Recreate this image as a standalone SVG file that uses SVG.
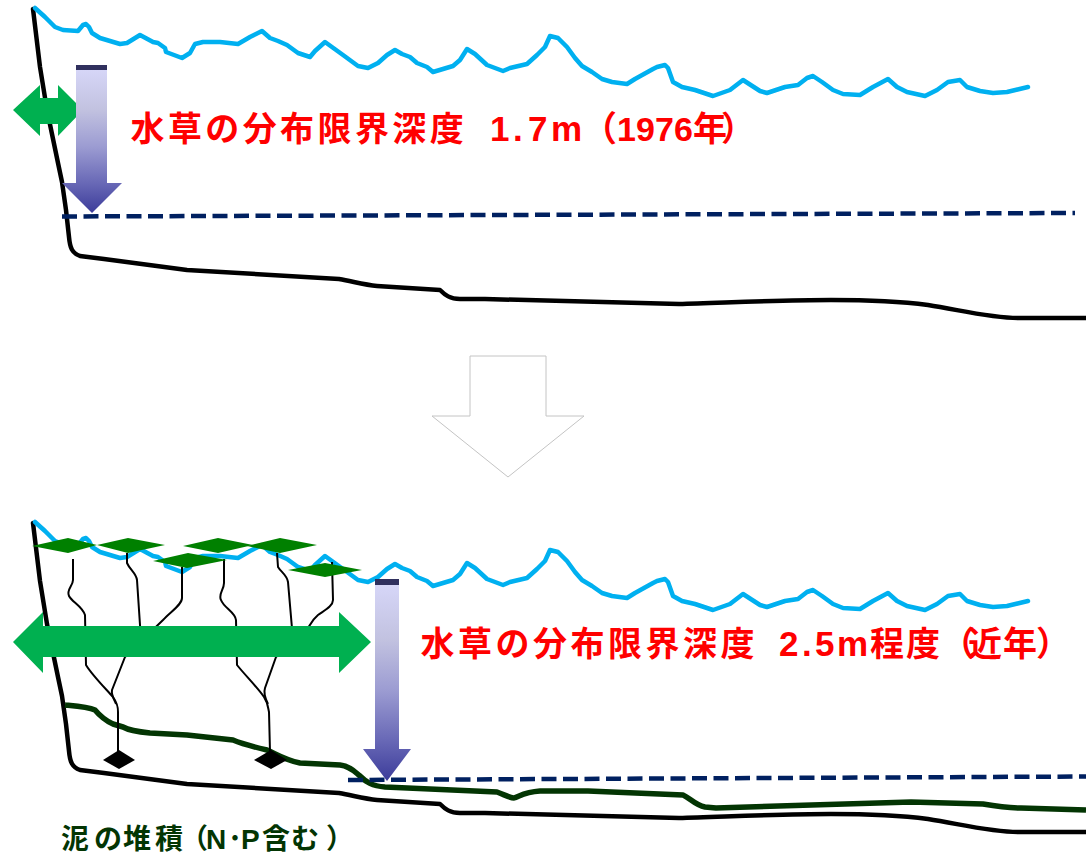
<svg xmlns="http://www.w3.org/2000/svg" xmlns:xlink="http://www.w3.org/1999/xlink" width="1086" height="861" viewBox="0 0 1086 861">
  <style>
    .water { fill: none; stroke: #00B0F0; stroke-width: 4.5; stroke-linejoin: round; stroke-linecap: round; }
    .bed { fill: none; stroke: #000; stroke-width: 4.5; stroke-linejoin: round; stroke-linecap: round; }
    .limit { fill: none; stroke: #002060; stroke-width: 4.5; stroke-dasharray: 15 6.5; }
    .mud { fill: none; stroke: #033503; stroke-width: 5.5; stroke-linejoin: round; }
    .stem { fill: none; stroke: #000; stroke-width: 2; stroke-linejoin: round; }
    .leaf { fill: #008000; }
    .root { fill: #000; }
    .spread { fill: #00B050; }
    .depth { fill: url(#depthGrad); }
    .cap { fill: #30305e; }
    .lbl { font-family: "Liberation Sans", "Noto Sans CJK JP", sans-serif; font-weight: bold; fill: #FF0000; font-size: 34px; }
    .num { font-size: 35px; }
    .note { font-family: "Liberation Sans", "Noto Sans CJK JP", sans-serif; font-weight: bold; fill: #033503; font-size: 28px; }
  </style>
  <defs>
    <linearGradient id="depthGrad" x1="0" y1="0" x2="0" y2="1">
      <stop offset="0" stop-color="#d8d8fa"/>
      <stop offset="0.3" stop-color="#c2c2e0"/>
      <stop offset="0.55" stop-color="#9c9cd2"/>
      <stop offset="0.8" stop-color="#6868b6"/>
      <stop offset="1" stop-color="#3c3c9a"/>
    </linearGradient>
    <!-- lake surface -->
    <path id="surface" class="water" d="M35,8 L45,17 L55,27 L63,30 L78,31 L83,25 L86,24 L89,27 L92,33 L100,38 L120,44 L127,43 L140,35 L153,42 L158,43 L165,48 L166,52 L182,58 L190,53 L195,44 L203,42 L220,42 L238,44 L250,37 L262,31 L270,38 L278,41 L287,45 L298,53 L310,57 L315,51 L325,42 L343,55 L358,66 L368,68 L378,63 L387,55 L395,50 L402,54 L410,57 L417,63 L427,67 L433,72 L453,66 L460,60 L467,49 L475,54 L487,65 L503,71 L510,68 L527,64 L537,55 L545,47 L550,36 L558,38 L567,47 L575,58 L582,66 L592,72 L602,79 L612,82 L627,84 L635,79 L653,69 L657,67 L665,65 L668,68 L673,82 L682,87 L695,90 L713,96 L730,90 L743,80 L760,91 L767,93 L785,87 L798,85 L807,78 L813,76 L822,82 L833,90 L843,94 L860,95 L873,87 L888,79 L897,87 L907,92 L925,96 L937,90 L948,82 L960,80 L967,87 L980,91 L993,93 L1007,92 L1028,87"/>
    <!-- shore and lake bottom -->
    <path id="bottom" class="bed" d="M33,9 L40,67 L47,110 L58,163 L62,182 L66,210 L69,237 C70,248 72,253 80,256 L104,259 L187,270 L339,279 C355,282 365,285 377,286 L440,290 C445,295 450,299 460,299 L485,299 L679,304 C720,303 780,300 831,300 C880,300 905,302 928,305 C960,310 990,318 1018,318 L1086,318"/>
  </defs>

  <!-- 1976 profile -->
  <g id="lake-1976">
    <use xlink:href="#bottom"/>
    <use xlink:href="#surface"/>
  </g>

  <!-- recent profile: same basin, lower panel -->
  <g id="lake-recent">
    <use xlink:href="#bottom" transform="translate(0,514)"/>
    <use xlink:href="#surface" transform="translate(0,514)"/>
    <path id="mud-layer" class="mud" d="M65,705 C75,706 88,707 95,710 C100,716 104,720 113,724 L123,727 C130,731 140,732 150,733 L187,735 L233,740 C240,743 250,746 267,750 C278,755 285,760 300,763 L340,765 C350,766 355,772 360,776 C366,782 372,786 385,787 L497,792 C505,795 510,798 514,798 C520,796 525,792 540,791 L588,791 L683,795 C690,798 695,805 705,807 L716,808 L911,802 L983,804 C1000,807 1010,808 1021,808 L1086,810"/>
  </g>

  <!-- depth limit lines -->
  <g id="connectors">
    <path class="limit" d="M62,216.5 L1075,213"/>
    <path class="limit" d="M348,780 L1086,776.5"/>
  </g>

  <!-- aquatic plants -->
  <g id="plants">
    <path class="stem" d="M73,559 L73,580 C73,586 66,590 69,596 C72,602 82,606 85,615 L86,665 C92,675 105,688 113,697 C118,704 118,708 118,712 L118,752"/>
    <path class="stem" d="M127,553 L127,563 C130,570 136,573 137,580 L141,640"/>
    <path class="stem" d="M182,567 L182,598 C182,605 170,612 163,620 L125,657 L112,690 C111,695 114,699 116,704"/>
    <path class="stem" d="M224,559 L224,583 C224,590 218,594 221,600 C224,608 235,612 236,620 L237,665 C245,675 258,688 264,697 C268,703 268,708 269,712 L270,752"/>
    <path class="stem" d="M277,553 L278,567 C281,572 287,575 288,582 L293,640"/>
    <path class="stem" d="M332,562 L333,600 C333,606 325,610 318,615 C312,620 310,625 308,628 L276,657 L265,688 C263,694 266,700 268,704"/>
    <polygon class="root" points="103,760 119,750 135,760 119,769"/>
    <polygon class="root" points="254,760 271,750 287,760 271,769"/>
    <polygon class="leaf" points="32,546 68,538 97,545 68,553"/>
    <polygon class="leaf" points="97,545 128,538 165,545 128,553"/>
    <polygon class="leaf" points="183,546 218,538 253,545 218,553"/>
    <polygon class="leaf" points="247,546 280,538 317,545 280,553"/>
    <polygon class="leaf" points="153,561 188,553 227,560 187,568"/>
    <polygon class="leaf" points="288,570 325,563 362,570 325,577"/>
  </g>

  <!-- spread of plant zone -->
  <g id="spread-1976">
    <path class="spread" d="M13,110 L40,85 L40,98 L58,98 L58,85 L83,110 L58,136 L58,124 L40,124 L40,136 Z"/>
  </g>
  <g id="spread-recent">
    <path class="spread" d="M13,642 L43,612 L43,626 L339,626 L339,612 L371,642 L339,673 L339,657 L43,657 L43,673 Z"/>
  </g>

  <!-- depth arrows -->
  <g id="depth-1976">
    <path class="depth" d="M76,65 H107 V183 H122 L92,213 L62,183 H76 Z"/>
    <rect class="cap" x="76" y="65" width="31" height="5"/>
  </g>
  <g id="depth-recent">
    <path class="depth" d="M375,579 H399 V749 H411 L387,781 L363,749 H375 Z"/>
    <rect class="cap" x="375" y="579" width="24" height="6"/>
  </g>

  <!-- transition arrow -->
  <g id="transition">
    <path d="M470,356 H546 V416 H584 L508,477 L432,416 H470 Z" fill="#fff" stroke="#c4c4c4" stroke-width="1"/>
  </g>

  <!-- labels -->
  <g id="label-1976">
    <text class="lbl" y="141"><tspan x="130.5 167.9 205.3 242.7 280.1 317.5 354.9 392.3 429.7">水草の分布限界深度</tspan><tspan class="num" x="490 513 528 551">1.7m</tspan><tspan class="num" x="582">（</tspan><tspan x="617 636 655 674">1976</tspan><tspan x="693 721">年）</tspan></text>
  </g>
  <g id="label-recent">
    <text class="lbl" y="656"><tspan x="420.5 458 495.5 533 570.5 608 645.5 683 720.5">水草の分布限界深度</tspan><tspan class="num" x="779 802 815 837">2.5m</tspan><tspan x="870 906">程度</tspan><tspan x="941 968 1003 1036">（近年）</tspan></text>
  </g>
  <g id="label-mud">
    <text class="note" y="849" x="61 94 123 155 180 206 228 241 262 291 326">泥の堆積（N･P含む）</text>
  </g>
</svg>
